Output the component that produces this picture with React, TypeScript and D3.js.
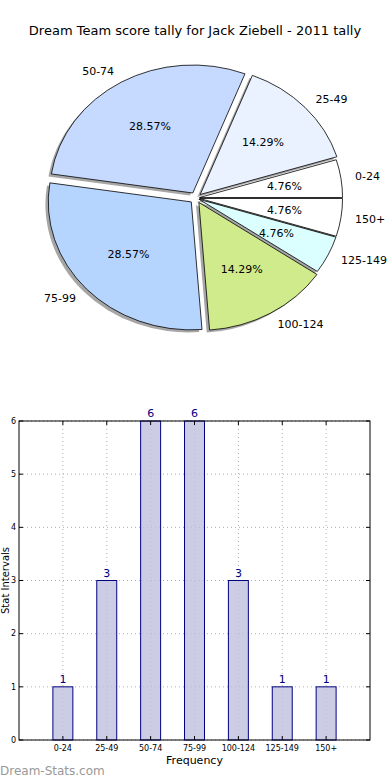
import React from "react";
import * as d3 from "d3";

const categories = ["0-24", "25-49", "50-74", "75-99", "100-124", "125-149", "150+"];
const counts = [1, 3, 6, 6, 3, 1, 1];
const pieColors = ["#ffffff", "#eaf1ff", "#c6d9ff", "#b5d5ff", "#d0eb8b", "#dbffff", "#ffffff"];
const explode = [0.025, 0.04, 0.045, 0.045, 0.04, 0.025, 0.025];
const yTicks = [0, 1, 2, 3, 4, 5, 6];

const W = 390;
const H = 780;
const FONT = "DejaVu Sans, Verdana, sans-serif";

export default function App() {
  // Pie (elliptical, as matplotlib without equal aspect)
  const cx = 196;
  const cy = 198;
  const rx = 143;
  const ry = 128;
  const total = d3.sum(counts);
  const pie = d3
    .pie<number>()
    .sort(null)
    .value((d) => d)
    .startAngle(Math.PI / 2)
    .endAngle(Math.PI / 2 - 2 * Math.PI);
  const arcs = pie(counts);
  const arcGen = d3.arc<any>().innerRadius(0).outerRadius(1);

  const slices = arcs.map((a, i) => {
    const mid = Math.PI / 2 - (a.startAngle + a.endAngle) / 2; // math angle
    const ux = Math.cos(mid);
    const uy = -Math.sin(mid);
    const ox = cx + explode[i] * rx * ux;
    const oy = cy + explode[i] * ry * uy;
    return {
      a,
      i,
      ux,
      uy,
      ox,
      oy,
      path: arcGen({ startAngle: a.endAngle, endAngle: a.startAngle }) as string,
    };
  });

  // Bar chart
  const left = 19;
  const right = 370;
  const top = 421;
  const bottom = 740;
  const x = d3.scaleLinear().domain([-1, 7]).range([left, right]);
  const y = d3.scaleLinear().domain([0, 6]).range([bottom, top]);
  const barW = x(0.455) - x(0);

  return (
    <svg width={W} height={H} style={{ display: "block", position: "absolute", left: 0, top: 0 }} fontFamily={FONT}>
      <rect width={W} height={H} fill="#ffffff" />
      <text x={195} y={35} textAnchor="middle" fontSize={13} fill="#000">
        Dream Team score tally for Jack Ziebell - 2011 tally
      </text>

      {/* shadows */}
      {slices.map((s) => (
        <g key={"sh" + s.i} transform={`translate(${s.ox - 0.02 * rx},${s.oy + 0.02 * ry}) scale(${rx},${ry})`}>
          <path d={s.path} fill="#4d4d4d" fillOpacity={0.5} stroke="none" />
        </g>
      ))}
      {/* wedges */}
      {slices.map((s) => (
        <g key={"w" + s.i} transform={`translate(${s.ox},${s.oy}) scale(${rx},${ry})`}>
          <path d={s.path} fill={pieColors[s.i]} stroke="#000" strokeWidth={0.8} vectorEffect="non-scaling-stroke" />
        </g>
      ))}
      {/* labels */}
      {slices.map((s) => {
        const lx = s.ox + 1.1 * rx * s.ux;
        const ly = s.oy + 1.1 * ry * s.uy;
        const px = s.ox + 0.6 * rx * s.ux;
        const py = s.oy + 0.6 * ry * s.uy;
        const pct = ((counts[s.i] / total) * 100).toFixed(2) + "%";
        return (
          <g key={"l" + s.i}>
            <text x={lx} y={ly} dy="0.35em" textAnchor={s.ux >= 0 ? "start" : "end"} fontSize={11} fill="#000">
              {categories[s.i]}
            </text>
            <text x={px} y={py} dy="0.35em" textAnchor="middle" fontSize={11} fill="#000">
              {pct}
            </text>
          </g>
        );
      })}

      {/* bar chart grid */}
      {categories.map((c, i) => (
        <line key={"gx" + i} x1={x(i)} x2={x(i)} y1={top} y2={bottom} stroke="#b0b0b0" strokeWidth={1} strokeDasharray="1,3" />
      ))}
      {yTicks.map((t) => (
        <line key={"gy" + t} x1={left} x2={right} y1={y(t)} y2={y(t)} stroke="#b0b0b0" strokeWidth={1} strokeDasharray="1,3" />
      ))}

      {/* bars */}
      {counts.map((v, i) => (
        <g key={"b" + i}>
          <rect
            x={x(i) - barW / 2}
            y={y(v)}
            width={barW}
            height={y(0) - y(v)}
            fill="#bfbfdf"
            fillOpacity={0.8}
            stroke="#000080"
            strokeWidth={1}
          />
          <text x={x(i)} y={y(v) - 4} textAnchor="middle" fontSize={11} fill="#000080">
            {v}
          </text>
        </g>
      ))}

      {/* frame */}
      <rect x={left} y={top} width={right - left} height={bottom - top} fill="none" stroke="#000" strokeWidth={1} />

      {/* ticks */}
      {yTicks.map((t) => (
        <g key={"ty" + t}>
          <line x1={left} x2={left + 4} y1={y(t)} y2={y(t)} stroke="#000" />
          <line x1={right - 4} x2={right} y1={y(t)} y2={y(t)} stroke="#000" />
          <text x={left - 3} y={y(t)} dy="0.35em" textAnchor="end" fontSize={8} fill="#000">
            {t}
          </text>
        </g>
      ))}
      {categories.map((c, i) => (
        <g key={"tx" + i}>
          <line x1={x(i)} x2={x(i)} y1={bottom} y2={bottom - 4} stroke="#000" />
          <line x1={x(i)} x2={x(i)} y1={top} y2={top + 4} stroke="#000" />
          <text x={x(i)} y={bottom + 11} textAnchor="middle" fontSize={8} fill="#000">
            {c}
          </text>
        </g>
      ))}
      <text x={(left + right) / 2} y={764} textAnchor="middle" fontSize={11} fill="#000">
        Frequency
      </text>
      <text transform={`translate(9,${(top + bottom) / 2}) rotate(-90)`} textAnchor="middle" fontSize={10} fill="#000">
        Stat Intervals
      </text>
      <text x={0} y={775} fontSize={12} fill="#999999">
        Dream-Stats.com
      </text>
    </svg>
  );
}
